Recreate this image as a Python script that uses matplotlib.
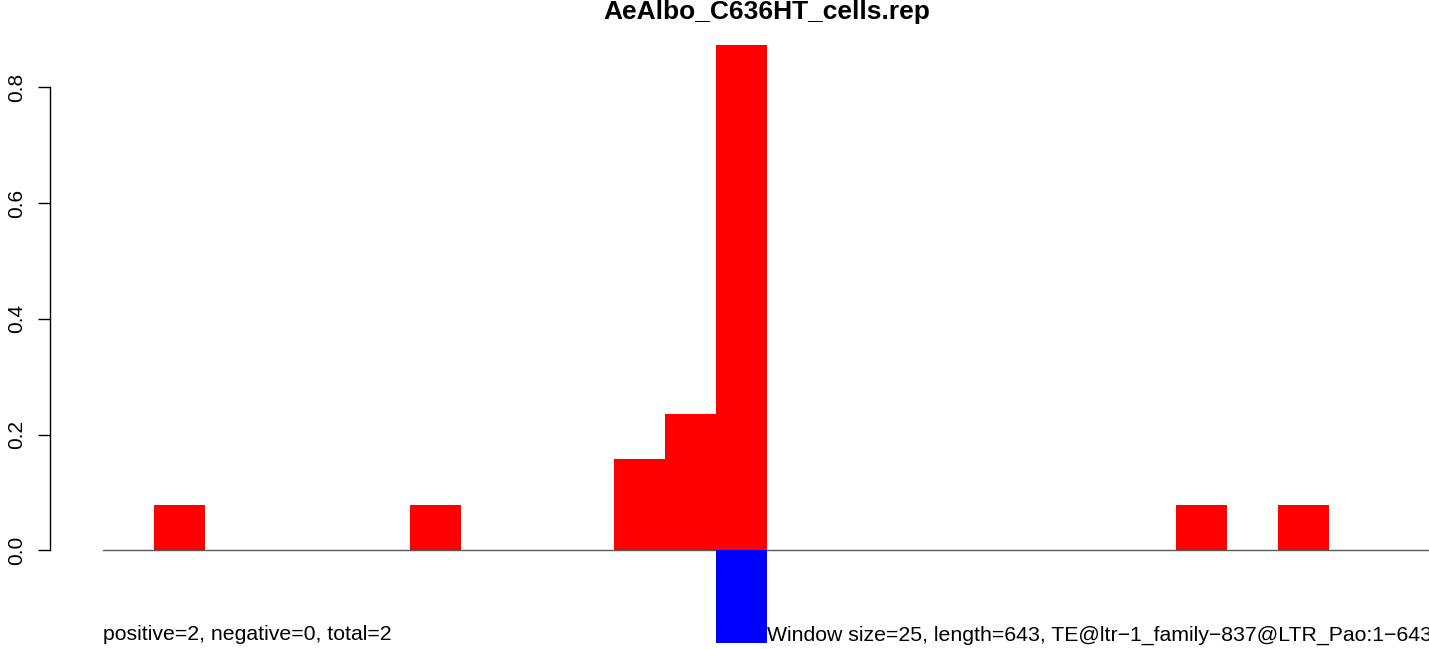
import numpy as np
import matplotlib
matplotlib.use("Agg")
import matplotlib.pyplot as plt

plt.rcParams["font.family"] = ["Liberation Sans", "DejaVu Sans"]

# --- data: window coverage (positive strand / negative strand) -------------
window_index = list(range(26))
pos_vals = [0, 0.078, 0, 0, 0, 0, 0.078, 0, 0, 0, 0.157, 0.236, 0.873,
            0, 0, 0, 0, 0, 0, 0, 0, 0.078, 0, 0.078, 0, 0]
neg_vals = [0, 0, 0, 0, 0, 0, 0, 0, 0, 0, 0, 0, -0.160,
            0, 0, 0, 0, 0, 0, 0, 0, 0, 0, 0, 0, 0]
yticks = [0.0, 0.2, 0.4, 0.6, 0.8]
title = "AeAlbo_C636HT_cells.rep"
left_note = "positive=2, negative=0, total=2"
right_note = "Window size=25, length=643, TE@ltr\u22121_family\u2212837@LTR_Pao:1\u2212643"

W, H = 1429, 649
fig = plt.figure(figsize=(W / 100, H / 100), dpi=100)

# pixel geometry of the plot region
ax_left, ax_right = 50, 1429
x0_px, px_per_bar = 103, 51.1
y0_px, px_per_unit = 550.3, 578.75

ax = fig.add_axes([ax_left / W, 0, (ax_right - ax_left) / W, 1])
ax.set_xlim(-(x0_px - ax_left) / px_per_bar,
            -(x0_px - ax_left) / px_per_bar + (ax_right - ax_left) / px_per_bar)
ax.set_ylim(-(H - y0_px) / px_per_unit, y0_px / px_per_unit)

ax.bar(window_index, pos_vals, width=1.0, align="edge", color="#ff0000",
       linewidth=0, zorder=2)
ax.bar(window_index, neg_vals, width=1.0, align="edge", color="#0000ff",
       linewidth=0, zorder=2)
ax.plot([0, 26], [0, 0], color="0.35", lw=1.0, zorder=1)

for s in ("top", "right", "bottom"):
    ax.spines[s].set_visible(False)
ax.spines["left"].set_bounds(0, 0.8)
ax.spines["left"].set_linewidth(1.0)
ax.set_xticks([])
ax.set_yticks(yticks)
ax.set_yticklabels([f"{v:.1f}" for v in yticks], rotation=90, va="center",
                   fontsize=15)
ax.tick_params(axis="y", length=9, width=1.0, pad=8)
ax.patch.set_visible(False)

fig.text(767 / W, 1 - 12 / H, title, ha="center", va="center",
         fontsize=19, fontweight="bold")
fig.text(x0_px / W, 1 - 635 / H, left_note, ha="left", va="center", fontsize=15.3)
fig.text(767 / W, 1 - 635 / H, right_note, ha="left", va="center", fontsize=15.3)

fig.savefig("out.png", dpi=100)
